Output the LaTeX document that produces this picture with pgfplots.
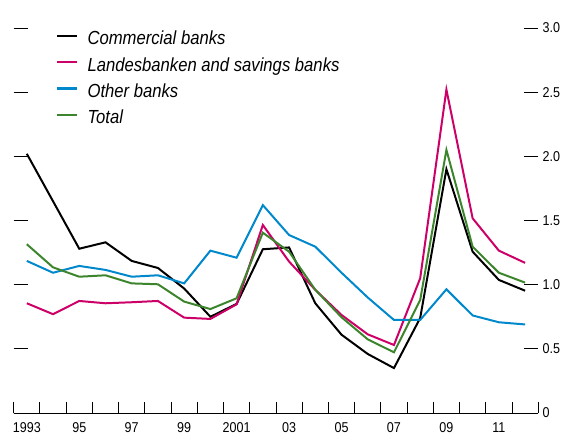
\documentclass[border=0pt]{standalone}
\usepackage{fontspec}
\setmainfont{Liberation Sans}[FakeStretch=0.88]
\usepackage{pgfplots}
\pgfplotsset{compat=1.18}
\definecolor{cmag}{RGB}{204,0,102}
\definecolor{cblue}{RGB}{0,136,204}
\definecolor{cgreen}{RGB}{61,133,45}
\begin{document}
\begin{tikzpicture}
\useasboundingbox (-13.7bp,-28bp) rectangle (548.3bp,413bp);
\begin{axis}[
  scale only axis, width=524.5bp, height=385bp,
  xmin=1992.5, xmax=2012.5, ymin=0, ymax=3,
  axis line style={draw=none},
  tick align=inside,
  xtick={1993,1995,...,2011},
  xticklabels={1993,95,97,99,2001,03,05,07,09,11},
  major x tick style={draw=none},
  minor xtick={1992.5,1993.5,...,2012.5},
  minor tick length=11bp,
  xtick pos=left,
  ytick={0,0.5,1,1.5,2,2.5,3},
  yticklabels={0,0.5,1.0,1.5,2.0,2.5,3.0},
  ytick pos=both, yticklabel pos=right,
  major tick length=14bp,
  tick style={black, line width=0.9pt},
  ticklabel style={font=\fontsize{14.3}{16}\selectfont},
  xticklabel style={yshift=-6bp},
  yticklabel style={xshift=1bp},
  legend style={draw=none, fill=none, inner sep=0pt, at={(rel axis cs:0.0806,0.993)}, anchor=north west,
    font=\fontsize{19}{21}\selectfont\itshape, row sep=7.3bp, column sep=8bp,
    nodes={inner sep=1bp, text height=13bp, text depth=4bp}, legend cell align=left},
  legend image code/.code={\draw[#1, line width=2.4pt] (0bp,4.5bp) -- (20bp,4.5bp);},
  clip=false,
]
\addplot[black, line width=2pt, mark=none] coordinates {(1993,2.02)(1994,1.65)(1995,1.28)(1996,1.33)(1997,1.185)(1998,1.13)(1999,0.97)(2000,0.75)(2001,0.85)(2002,1.276)(2003,1.29)(2004,0.855)(2005,0.61)(2006,0.46)(2007,0.35)(2008,0.74)(2009,1.90)(2010,1.257)(2011,1.037)(2012,0.953)};
\addlegendentry{Commercial banks}
\addplot[cmag, line width=2pt, mark=none] coordinates {(1993,0.855)(1994,0.77)(1995,0.873)(1996,0.855)(1997,0.863)(1998,0.873)(1999,0.743)(2000,0.733)(2001,0.847)(2002,1.465)(2003,1.18)(2004,0.96)(2005,0.764)(2006,0.613)(2007,0.53)(2008,1.05)(2009,2.52)(2010,1.517)(2011,1.265)(2012,1.17)};
\addlegendentry{Landesbanken and savings banks}
\addplot[cblue, line width=2pt, mark=none] coordinates {(1993,1.185)(1994,1.093)(1995,1.146)(1996,1.115)(1997,1.062)(1998,1.073)(1999,1.01)(2000,1.265)(2001,1.21)(2002,1.62)(2003,1.387)(2004,1.296)(2005,1.093)(2006,0.90)(2007,0.725)(2008,0.725)(2009,0.964)(2010,0.76)(2011,0.707)(2012,0.69)};
\addlegendentry{Other banks}
\addplot[cgreen, line width=2pt, mark=none] coordinates {(1993,1.315)(1994,1.135)(1995,1.062)(1996,1.073)(1997,1.01)(1998,1.003)(1999,0.868)(2000,0.81)(2001,0.894)(2002,1.405)(2003,1.257)(2004,0.96)(2005,0.746)(2006,0.574)(2007,0.473)(2008,0.88)(2009,2.05)(2010,1.296)(2011,1.093)(2012,1.016)};
\addlegendentry{Total}
\draw[black, line width=0.9pt] (rel axis cs:0,0) -- (rel axis cs:1,0);
\end{axis}
\end{tikzpicture}
\end{document}
